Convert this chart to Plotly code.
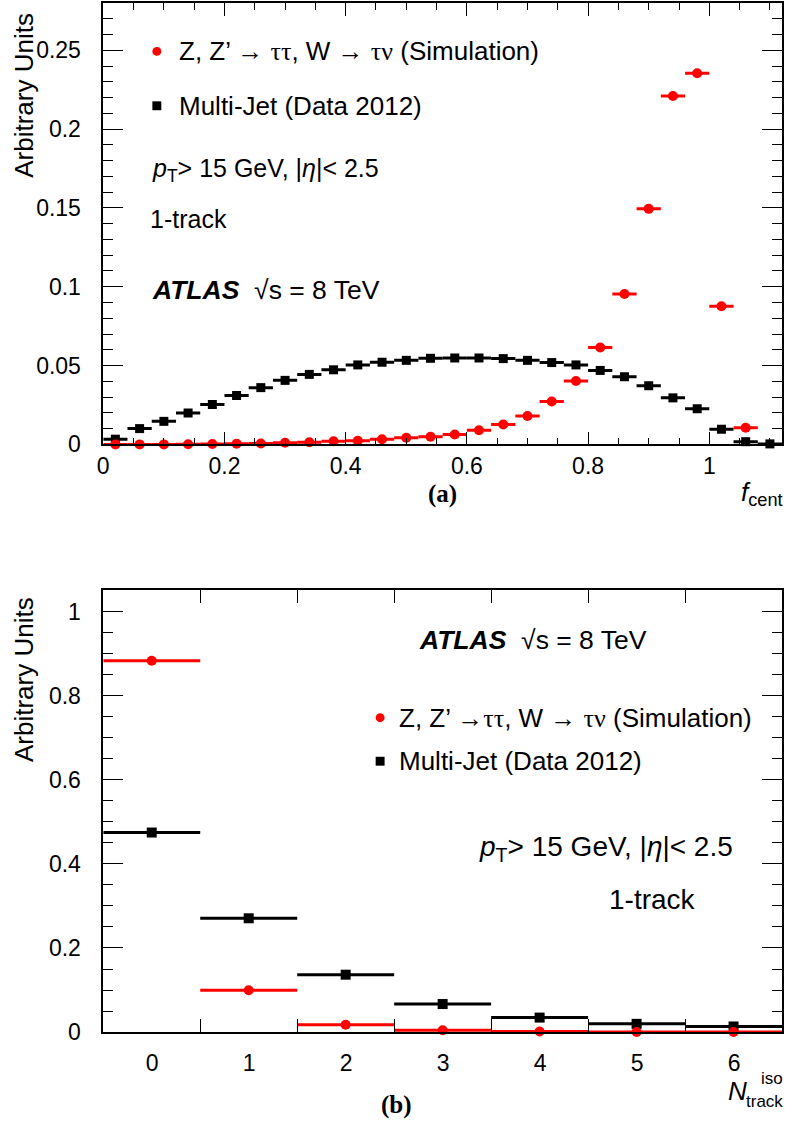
import plotly.graph_objects as go

W, H = 786, 1140
FONT = "Liberation Sans, Arial, Helvetica, sans-serif"
SERIF = "Liberation Serif, Times New Roman, serif"
RED = "#ff0000"

# ---------------- data: panel (a) f_cent ----------------
fcent_bins = [0.02, 0.06, 0.10, 0.14, 0.18, 0.22, 0.26, 0.30, 0.34, 0.38,
              0.42, 0.46, 0.50, 0.54, 0.58, 0.62, 0.66, 0.70, 0.74, 0.78,
              0.82, 0.86, 0.90, 0.94, 0.98, 1.02, 1.06, 1.10]
fcent_halfwidth = 0.02
fcent_sim = [0.0, 0.0, 0.0, 0.0001, 0.0002, 0.0004, 0.0006, 0.0010, 0.0013, 0.0020,
             0.0023, 0.0033, 0.0042, 0.0048, 0.0063, 0.0090, 0.0126, 0.0180, 0.0272, 0.0402,
             0.0615, 0.0954, 0.1494, 0.2210, 0.2354, 0.0876, 0.0105, None]
fcent_jet = [0.0033, 0.0100, 0.0146, 0.0199, 0.0253, 0.0310, 0.0360, 0.0406, 0.0444, 0.0473,
             0.0504, 0.0521, 0.0533, 0.0546, 0.0548, 0.0548, 0.0544, 0.0533, 0.0519, 0.0504,
             0.0469, 0.0429, 0.0372, 0.0295, 0.0226, 0.0096, 0.0017, 0.0003]

# ---------------- data: panel (b) N_track^iso ----------------
ntrk_bins = [0, 1, 2, 3, 4, 5, 6]
ntrk_halfwidth = 0.5
ntrk_tickvals = [-0.5, 0.5, 1.5, 2.5, 3.5, 4.5, 5.5]
ntrk_ticktext = ["0", "1", "2", "3", "4", "5", "6"]
ntrk_sim = [0.883, 0.0996, 0.0173, 0.0045, 0.0012, 0.0004, 0.0002]
ntrk_jet = [0.4745, 0.2706, 0.1365, 0.0667, 0.0345, 0.0196, 0.0133]

GREEK = "<span style='font-family:Liberation Serif'>"
LEG_SIM_A = "Z, Z’ \u2192 " + GREEK + "\u03c4\u03c4</span>, W \u2192 " + GREEK + "\u03c4\u03bd</span> (Simulation)"
LEG_SIM_B = "Z, Z’ \u2192" + GREEK + "\u03c4\u03c4</span>, W \u2192 " + GREEK + "\u03c4\u03bd</span> (Simulation)"
LEG_JET = "Multi-Jet (Data 2012)"
CUTS = "<i>p</i><sub>T</sub>&gt; 15 GeV, |<i>\u03b7</i>|&lt; 2.5"
TRACK = "1-track"
ATLAS = "<b><i>ATLAS</i></b>  \u221as = 8 TeV"


def px(x):
    return x / W


def py(y):
    return 1 - y / H


fig = go.Figure()


def add_series(x, y, hw, color, symbol, size, xa, ya):
    fig.add_trace(go.Scatter(
        x=x, y=y, mode="markers", xaxis=xa, yaxis=ya,
        marker=dict(color=color, symbol=symbol, size=size, line=dict(width=0)),
        error_x=dict(type="constant", value=hw, width=0, thickness=3, color=color),
        cliponaxis=False, showlegend=False, hoverinfo="skip"))


# panel (a)
add_series(fcent_bins, fcent_jet, fcent_halfwidth, "black", "square", 9, "x", "y")
add_series(fcent_bins, fcent_sim, fcent_halfwidth, RED, "circle", 10, "x", "y")
# panel (b)
add_series(ntrk_bins, ntrk_jet, ntrk_halfwidth, "black", "square", 10, "x2", "y2")
add_series(ntrk_bins, ntrk_sim, ntrk_halfwidth, RED, "circle", 10, "x2", "y2")

L, R = 98, 782
A_TOP, A_BOT = 3, 449.5
B_TOP, B_BOT = 597.3, 1044

axis_common = dict(showline=True, linecolor="black", linewidth=1.5, mirror="ticks",
                   showgrid=False, zeroline=False, ticks="inside", tickcolor="black",
                   tickwidth=1.3, tickfont=dict(family=FONT, size=23, color="black"))

fig.update_layout(
    width=W, height=H, margin=dict(l=0, r=0, t=0, b=0),
    paper_bgcolor="white", plot_bgcolor="white", showlegend=False,
    xaxis=dict(domain=[px(L), px(R)], anchor="y", range=[0, 1.12], tick0=0, dtick=0.2,
               ticklen=13, ticklabelstandoff=0,
               minor=dict(dtick=0.05, ticklen=7, ticks="inside", tickcolor="black", tickwidth=1.3),
               **axis_common),
    yaxis=dict(domain=[py(A_BOT), py(A_TOP)], anchor="x", range=[0, 0.28], tick0=0, dtick=0.05,
               ticklen=20, ticklabelstandoff=16,
               minor=dict(dtick=0.01, ticklen=10, ticks="inside", tickcolor="black", tickwidth=1.3),
               **axis_common),
    xaxis2=dict(domain=[px(L), px(R)], anchor="y2", range=[-0.5, 6.5],
                tickmode="array", tickvals=ntrk_tickvals, ticktext=ntrk_ticktext,
                ticklabelshift=49, ticklen=13, ticklabelstandoff=10,
                **axis_common),
    yaxis2=dict(domain=[py(B_BOT), py(B_TOP)], anchor="x2", range=[0, 1.05], tick0=0, dtick=0.2,
                ticklen=20, ticklabelstandoff=16,
                minor=dict(dtick=0.05, ticklen=10, ticks="inside", tickcolor="black", tickwidth=1.3),
                **axis_common),
)

ann = []
shapes = []


def text(x, y, s, size=26, xanchor="left", yanchor="middle", family=FONT, angle=0):
    ann.append(dict(x=px(x), y=py(y), xref="paper", yref="paper", text=s, showarrow=False,
                    xanchor=xanchor, yanchor=yanchor, textangle=angle,
                    font=dict(family=family, size=size, color="black")))


def circle(cx, cy, r, color):
    shapes.append(dict(type="circle", xref="paper", yref="paper",
                       x0=px(cx - r), x1=px(cx + r), y0=py(cy + r), y1=py(cy - r),
                       fillcolor=color, line=dict(width=0)))


def square(cx, cy, r, color):
    shapes.append(dict(type="rect", xref="paper", yref="paper",
                       x0=px(cx - r), x1=px(cx + r), y0=py(cy + r), y1=py(cy - r),
                       fillcolor=color, line=dict(width=0)))


# panel (a) texts
circle(152, 52, 4.5, RED)
text(172, 52, LEG_SIM_A)
square(152, 107, 4.5, "black")
text(172, 107, LEG_JET)
text(145, 172, CUTS, size=25)
text(143, 222, TRACK, size=25)
text(145, 293, ATLAS, size=26.5)
text(18, 96, "Arbitrary Units", size=26, angle=-90, xanchor="center")
text(785, 499, "<i>f</i><sub>cent</sub>", size=26, xanchor="right")
text(440, 500, "<b>(a)</b>", size=25, xanchor="center", family=SERIF)

# panel (b) texts
text(414, 647, ATLAS, size=26.5)
circle(377, 726, 4.5, RED)
text(394, 726, LEG_SIM_B)
square(377, 770, 4.5, "black")
text(394, 770, LEG_JET)
text(735, 858, CUTS, size=28, xanchor="right")
text(697, 910, TRACK, size=28, xanchor="right")
text(18, 687, "Arbitrary Units", size=26, angle=-90, xanchor="center")
text(737, 1104, "<i>N</i>", size=26, xanchor="center")
text(785, 1091, "iso", size=17, xanchor="right")
text(785, 1114, "track", size=17, xanchor="right")
text(393, 1118, "<b>(b)</b>", size=25, xanchor="center", family=SERIF)

fig.update_layout(annotations=ann, shapes=shapes)
fig.write_html(
    "out.html",
    config={"displayModeBar": False},
    post_script=(
        "document.documentElement.style.margin='0';"
        "document.documentElement.style.overflow='hidden';"
        "document.body.style.margin='0';document.body.style.padding='0';"
        "document.body.style.overflow='hidden';"
        "var d=document.getElementById('{plot_id}');"
        "d.style.position='fixed';d.style.left='0px';d.style.top='0px';"
    ),
)
